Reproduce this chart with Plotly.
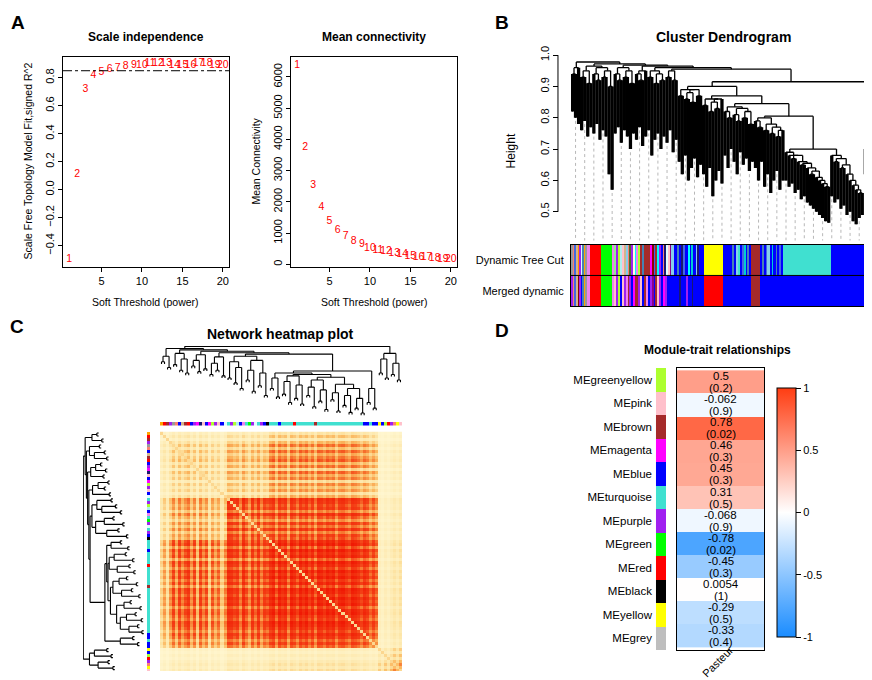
import numpy as np
import plotly.graph_objects as go

FONT = "Liberation Sans, Arial, sans-serif"

# ---- panel A: soft threshold scan
powers = [1, 2, 3, 4, 5, 6, 7, 8, 9, 10, 11, 12, 13, 14, 15, 16, 17, 18, 19, 20]
sft_r2 = [-0.50, 0.11, 0.72, 0.82, 0.84, 0.86, 0.87, 0.88, 0.89, 0.89,
          0.90, 0.90, 0.90, 0.89, 0.89, 0.89, 0.90, 0.90, 0.89, 0.89]
mean_k = [6380, 3730, 2520, 1820, 1390, 1100, 890, 740, 625, 520,
          455, 400, 360, 308, 265, 235, 210, 190, 170, 160]
r2_cutoff = 0.85

# ---- R colour names used by WGCNA
r_colors = {
    'turquoise': '#40E0D0', 'blue': '#0000FF', 'brown': '#A52A2A', 'yellow': '#FFFF00',
    'green': '#00FF00', 'red': '#FF0000', 'black': '#000000', 'pink': '#FFC0CB',
    'magenta': '#FF00FF', 'purple': '#A020F0', 'greenyellow': '#ADFF2F', 'tan': '#D2B48C',
    'salmon': '#FA8072', 'cyan': '#00FFFF', 'midnightblue': '#191970', 'lightcyan': '#E0FFFF',
    'grey60': '#999999', 'lightgreen': '#90EE90', 'lightyellow': '#FFFFE0', 'royalblue': '#4169E1',
    'darkred': '#8B0000', 'darkturquoise': '#00CED1', 'orange': '#FFA500', 'darkorange': '#FF8C00',
    'skyblue': '#87CEEB', 'steelblue': '#4682B4', 'paleturquoise': '#AFEEEE', 'violet': '#EE82EE',
    'darkolivegreen': '#556B2F', 'darkmagenta': '#8B008B', 'grey': '#BEBEBE',
}

# ---- panel B: gene dendrogram as 100 branch bundles
# merge height between neighbouring bundles
tree_gaps = [0.94, 0.96, 0.978, 0.93, 0.95, 0.91, 0.965, 0.94, 0.92, 0.96,
             0.93, 0.95, 0.90, 0.972, 0.94, 0.92, 0.96, 0.93, 0.95, 0.91,
             0.968, 0.94, 0.92, 0.95, 0.965, 0.93, 0.95, 0.91, 0.94, 0.92,
             0.96, 0.93, 0.95, 0.92, 0.955,
             0.87, 0.89, 0.86, 0.88, 0.85, 0.89, 0.87, 0.90,
             0.84, 0.86, 0.82, 0.85, 0.83, 0.86, 0.87,
             0.82, 0.80, 0.835, 0.81, 0.79, 0.83, 0.80, 0.82, 0.78, 0.845,
             0.79, 0.77, 0.80, 0.76, 0.78, 0.75, 0.77, 0.74, 0.76, 0.805,
             0.69, 0.68, 0.67, 0.68, 0.66, 0.65, 0.655, 0.64, 0.62, 0.63,
             0.61, 0.60, 0.59, 0.58, 0.70,
             0.68, 0.66, 0.67, 0.64, 0.65, 0.62, 0.60, 0.585, 0.57, 0.56, 0.915,
             0.70, 0.74, 0.68]
# lowest leaf of every bundle
tree_tips = [0.82, 0.80, 0.78, 0.76, 0.79, 0.74, 0.77, 0.75, 0.78, 0.73,
             0.76, 0.74, 0.62, 0.57, 0.75, 0.77, 0.72, 0.76, 0.74, 0.70,
             0.75, 0.73, 0.77, 0.71, 0.74, 0.76, 0.68, 0.73, 0.75, 0.70,
             0.74, 0.72, 0.76, 0.69, 0.73,
             0.66, 0.62, 0.68, 0.60, 0.64, 0.67, 0.61, 0.65,
             0.62, 0.58, 0.64, 0.55, 0.60, 0.63, 0.59,
             0.68, 0.64, 0.70, 0.66, 0.62, 0.69, 0.65, 0.67, 0.63, 0.66,
             0.64, 0.60, 0.66, 0.58, 0.62, 0.56, 0.60, 0.63, 0.57, 0.60,
             0.60, 0.58, 0.59, 0.56, 0.57, 0.54, 0.55, 0.53, 0.52, 0.51,
             0.50, 0.49, 0.48, 0.47, 0.465,
             0.55, 0.53, 0.54, 0.51, 0.52, 0.49, 0.50, 0.47, 0.46, 0.48, 0.49,
             0.62, 0.60, 0.64, 0.61]

dyn_colors = ['grey60', 'salmon', 'royalblue', 'tan', 'darkorange', 'purple', 'lightcyan', 'steelblue',
              'orange', 'grey60', 'violet', 'red', 'green',
              'violet', 'lightgreen', 'purple', 'greenyellow', 'paleturquoise', 'pink', 'tan', 'skyblue',
              'salmon', 'darkolivegreen', 'purple', 'lightyellow', 'cyan', 'violet', 'greenyellow', 'brown',
              'steelblue', 'brown',
              'magenta', 'darkred', 'royalblue', 'brown', 'cyan', 'purple', 'blue', 'salmon', 'midnightblue',
              'lightcyan', 'pink', 'darkmagenta', 'skyblue',
              'blue', 'steelblue', 'blue', 'midnightblue', 'royalblue', 'blue', 'cyan', 'blue',
              'darkturquoise', 'blue', 'skyblue', 'midnightblue', 'blue',
              'yellow', 'blue',
              'steelblue', 'blue', 'skyblue', 'turquoise', 'blue', 'royalblue', 'darkturquoise', 'blue',
              'steelblue', 'blue', 'brown',
              'blue', 'steelblue', 'blue', 'royalblue', 'skyblue', 'blue', 'darkturquoise', 'blue',
              'steelblue', 'blue', 'royalblue', 'blue',
              'turquoise', 'blue', 'turquoise', 'skyblue']
dyn_widths = [0.7, 0.5, 0.6, 0.5, 0.4, 0.6, 0.4, 0.7, 0.5, 0.6, 0.6, 3.8, 3.6,
              0.8, 0.6, 0.7, 0.5, 0.6, 0.8, 0.5, 0.7, 0.6, 0.5, 0.7, 0.6, 0.5, 0.6, 0.6, 0.5, 0.5, 2.2,
              0.6, 0.5, 0.7, 0.6, 0.5, 0.8, 0.6, 0.5, 0.6, 0.5, 0.6, 0.6, 0.6,
              1.2, 0.6, 0.8, 0.4, 0.7, 1.0, 0.5, 0.7, 0.5, 0.9, 0.5, 0.4, 1.7,
              6.1, 3.3,
              0.6, 0.8, 0.5, 0.6, 0.7, 0.6, 0.5, 0.7, 0.5, 0.5, 2.9,
              0.8, 0.6, 0.7, 0.5, 0.6, 0.9, 0.5, 0.6, 0.7, 0.6, 0.5, 0.7,
              15.5, 13.8, 0.5, 0.6]

merged_colors = ['purple', 'salmon', 'royalblue', 'tan', 'darkred', 'purple', 'blue', 'steelblue',
                 'orange', 'grey60', 'violet', 'red', 'green',
                 'violet', 'pink', 'purple', 'greenyellow', 'blue', 'pink', 'purple', 'violet', 'brown',
                 'purple', 'blue', 'magenta', 'brown', 'purple', 'pink', 'blue', 'brown', 'violet', 'blue',
                 'purple', 'darkmagenta', 'blue', 'brown', 'pink', 'purple', 'blue', 'magenta', 'purple',
                 'blue', 'blue',
                 'blue', 'midnightblue', 'blue', 'purple', 'blue', 'midnightblue', 'blue',
                 'red', 'blue', 'brown', 'blue', 'turquoise']
merged_widths = [0.7, 0.5, 0.6, 0.5, 0.4, 0.6, 0.4, 0.7, 0.5, 0.6, 0.6, 3.8, 3.6,
                 0.8, 0.6, 0.7, 0.5, 0.6, 0.8, 0.5, 0.7, 0.6, 0.5, 0.7, 0.6, 1.1, 0.6, 0.6, 0.5, 0.7,
                 0.6, 0.8, 0.6, 0.5, 0.7, 0.5, 0.6, 0.7, 0.8, 0.5, 0.6, 0.6, 1.6,
                 2.0, 0.4, 1.8, 0.4, 1.5, 0.3, 3.5,
                 6.1, 9.3, 2.9, 37.5, 0.6]

# ---- panel C: network heatmap (80 genes in tree order)
net_gaps = [0.78, 0.86, 0.70, 0.97, 0.74, 0.90, 0.66, 0.82, 0.62, 0.95,
            0.72, 0.80, 0.64, 0.88, 0.68, 0.93, 0.60, 0.76, 0.66, 0.85,
            0.58, 0.91, 0.55, 0.78, 0.48, 0.70, 0.40, 0.86, 0.52, 0.66,
            0.36, 0.80, 0.44, 0.62, 0.30, 0.89, 0.40, 0.55, 0.28, 0.62,
            0.32, 0.50, 0.20, 0.58, 0.26, 0.45, 0.18, 0.60, 0.30, 0.42,
            0.14, 0.52, 0.22, 0.38, 0.10, 0.56, 0.24, 0.34, 0.08, 0.46,
            0.16, 0.30, 0.06, 0.40, 0.12, 0.26, 0.05, 0.65, 0.20, 0.40,
            0.12, 1.00, 0.62, 0.82, 0.55, 0.90, 0.60, 0.76, 0.52]
net_modules = ['orange', 'red', 'brown', 'purple', 'grey60', 'salmon', 'blue', 'tan', 'brown', 'red',
               'blue', 'purple', 'magenta', 'midnightblue', 'pink', 'blue', 'magenta', 'greenyellow',
               'purple', 'pink', 'blue', 'lightcyan',
               'turquoise', 'purple', 'greenyellow', 'paleturquoise', 'blue', 'violet', 'turquoise',
               'green', 'purple', 'lightcyan', 'turquoise', 'purple', 'blue', 'black',
               'turquoise', 'turquoise', 'turquoise', 'blue', 'turquoise', 'turquoise', 'turquoise',
               'turquoise', 'red', 'turquoise', 'turquoise', 'turquoise', 'turquoise', 'turquoise',
               'turquoise', 'brown', 'turquoise', 'turquoise', 'turquoise', 'turquoise', 'turquoise',
               'turquoise', 'turquoise', 'turquoise', 'turquoise', 'turquoise', 'turquoise', 'turquoise',
               'turquoise', 'turquoise', 'turquoise', 'blue', 'blue', 'turquoise', 'blue', 'blue',
               'yellow', 'blue', 'greenyellow', 'red', 'purple', 'salmon', 'yellow', 'pink']
net_block = [0] * 22 + [1] * 14 + [2] * 36 + [3] * 8
net_strength = [0.35, 0.55, 0.30, 0.60, 0.90, 0.55, 0.95, 0.65, 0.85, 1.00,
                0.60, 0.90, 0.45, 0.95, 0.65, 0.85, 0.40, 0.80, 0.55, 0.75,
                0.40, 0.65,
                1.00, 0.95, 0.80, 0.90, 0.60, 1.00, 0.75, 0.55, 0.90, 0.65,
                0.95, 0.60, 0.85, 0.75,
                0.90, 1.00, 0.65, 1.00, 0.85, 0.95, 0.60, 1.00, 0.90, 0.70,
                1.00, 0.85, 1.00, 0.75, 0.95, 0.65, 1.00, 0.95, 0.80, 1.00,
                0.90, 1.00, 0.70, 0.95, 1.00, 0.85, 0.75, 1.00, 0.95, 0.85,
                0.70, 0.90, 0.80, 0.60, 0.75, 0.60,
                0.45, 0.30, 0.50, 0.35, 0.55, 0.75, 0.55, 0.80]
# rows x columns (the picture is not symmetric)
block_coupling = [[0.38, 0.45, 0.62, 0.20],
                  [0.55, 0.90, 0.85, 0.22],
                  [0.80, 0.90, 1.00, 0.28],
                  [0.22, 0.25, 0.30, 0.80]]

# ---- panel D: module-trait relationships
me_names = ['MEgreenyellow', 'MEpink', 'MEbrown', 'MEmagenta', 'MEblue', 'MEturquoise',
            'MEpurple', 'MEgreen', 'MEred', 'MEblack', 'MEyellow', 'MEgrey']
me_colors = ['greenyellow', 'pink', 'brown', 'magenta', 'blue', 'turquoise',
             'purple', 'green', 'red', 'black', 'yellow', 'grey']
me_cor = [0.5, -0.062, 0.78, 0.46, 0.45, 0.31, -0.068, -0.78, -0.45, 0.0054, -0.29, -0.33]
me_p = ['0.2', '0.9', '0.02', '0.3', '0.3', '0.5', '0.9', '0.02', '0.3', '1', '0.5', '0.4']
trait = 'Pasteur'


def dendro_segments(gaps, tips=None, hang=0.03):
    """Ordered dendrogram from the merge heights between neighbouring leaves."""
    xs, ys, stems = [], [], {}

    def build(lo, hi):
        if lo == hi:
            return lo, None
        k = lo + int(np.argmax(gaps[lo:hi]))
        h = gaps[k]
        left = build(lo, k)
        right = build(k + 1, hi)
        for cx, ch in (left, right):
            if ch is None:
                ch = tips[cx] if tips is not None else h - hang
                stems[cx] = (ch, h)
            xs.extend([cx, cx, None])
            ys.extend([ch, h, None])
        xs.extend([left[0], right[0], None])
        ys.extend([h, h, None])
        return (left[0] + right[0]) / 2, h

    build(0, len(gaps))
    return xs, ys, stems


def seg_starts(widths):
    return list(np.cumsum([0] + widths[:-1]) - 0.5)


fig = go.Figure()
tick_font = dict(family=FONT, size=11, color='black')

# A: scale independence / mean connectivity
fig.add_trace(go.Scatter(x=powers, y=sft_r2, mode='text', text=[str(p) for p in powers],
                         textfont=dict(family=FONT, size=10.5, color='red'), xaxis='x', yaxis='y'))
fig.add_trace(go.Scatter(x=powers, y=mean_k, mode='text', text=[str(p) for p in powers],
                         textfont=dict(family=FONT, size=10.5, color='red'), xaxis='x2', yaxis='y2'))
fig.add_shape(type='line', xref='x domain', yref='y', x0=0, x1=1, y0=r2_cutoff, y1=r2_cutoff,
              line=dict(color='black', width=1, dash='dashdot'))

# B: cluster dendrogram + colour rows
bx, by, bstems = dendro_segments(tree_gaps, tips=tree_tips)
fig.add_trace(go.Scatter(x=bx, y=by, mode='lines', line=dict(color='black', width=1.3),
                         xaxis='x3', yaxis='y3', hoverinfo='skip'))
# each bundle holds many genes: draw it as a solid stem
sx, sy = [], []
for leaf, (tip, top) in bstems.items():
    sx.extend([leaf, leaf, None])
    sy.extend([tip, top, None])
fig.add_trace(go.Scatter(x=sx, y=sy, mode='lines', line=dict(color='black', width=3.3),
                         xaxis='x3', yaxis='y3', hoverinfo='skip'))
gx, gy = [], []
for leaf in sorted(bstems)[1::3]:
    gx.extend([leaf, leaf, None])
    gy.extend([bstems[leaf][0] - 0.01, 0.40, None])
fig.add_trace(go.Scatter(x=gx, y=gy, mode='lines', line=dict(color='#9a9a9a', width=0.7, dash='dot'),
                         xaxis='x3', yaxis='y3', hoverinfo='skip'))
for row, cols, wids in ((1, dyn_colors, dyn_widths), (0, merged_colors, merged_widths)):
    fig.add_trace(go.Bar(orientation='h', y=[row] * len(cols), x=wids, base=seg_starts(wids),
                         width=1, marker=dict(color=[r_colors[c] for c in cols], line=dict(width=0)),
                         xaxis='x4', yaxis='y4', hoverinfo='skip'))
fig.add_shape(type='line', xref='x4 domain', yref='y4', x0=0, x1=1, y0=0.5, y1=0.5,
              line=dict(color='black', width=1), layer='above')

# C: network heatmap
blk = np.array(net_block)
kk = np.array(net_strength)
tom = np.array(block_coupling)[blk][:, blk] * np.outer(kk, kk)
np.fill_diagonal(tom, 0.25)
n_net = len(net_strength)
fig.add_trace(go.Heatmap(z=tom, zmin=0, zmax=1, showscale=False, xaxis='x5', yaxis='y5',
                         colorscale=[[0, '#FFF8D4'], [0.2, '#FDE6A8'], [0.35, '#FBB860'],
                                     [0.5, '#F77A32'], [0.65, '#F44016'], [1, '#F01A04']],
                         hoverinfo='skip'))
cx, cy, _ = dendro_segments(net_gaps, hang=0.03)
fig.add_trace(go.Scatter(x=cx, y=cy, mode='lines', line=dict(color='black', width=1.1),
                         xaxis='x6', yaxis='y6', hoverinfo='skip'))
fig.add_trace(go.Scatter(x=cy, y=cx, mode='lines', line=dict(color='black', width=1.1),
                         xaxis='x9', yaxis='y9', hoverinfo='skip'))
net_idx = list(range(n_net))
fig.add_trace(go.Bar(x=net_idx, y=[1] * n_net, width=1,
                     marker=dict(color=[r_colors[c] for c in net_modules], line=dict(width=0)),
                     xaxis='x7', yaxis='y7', hoverinfo='skip'))
fig.add_trace(go.Bar(orientation='h', y=net_idx, x=[1] * n_net, width=1,
                     marker=dict(color=[r_colors[c] for c in net_modules], line=dict(width=0)),
                     xaxis='x8', yaxis='y8', hoverinfo='skip'))

# D: module-trait heatmap
fig.add_trace(go.Bar(orientation='h', y=me_names, x=[1] * len(me_names), width=1,
                     marker=dict(color=[r_colors[c] for c in me_colors], line=dict(width=0)),
                     xaxis='x10', yaxis='y10', hoverinfo='skip'))
fig.add_trace(go.Heatmap(z=[[v] for v in me_cor], x=[trait], y=me_names, zmin=-1, zmax=1,
                         colorscale=[[0, '#1A8CFF'], [0.5, '#FFFFFF'], [1, '#FF3D12']],
                         xaxis='x11', yaxis='y11', hoverinfo='skip',
                         colorbar=dict(x=0.8819, xanchor='left', y=0.2596, yanchor='middle',
                                       len=0.369, thickness=19, xpad=0, ypad=0,
                                       outlinecolor='black', outlinewidth=1,
                                       tickvals=[-1, -0.5, 0, 0.5, 1], ticktext=['-1', '-0.5', '0', '0.5', '1'],
                                       ticks='outside', ticklen=5, tickcolor='black',
                                       tickfont=tick_font)))
for name, c, p in zip(me_names, me_cor, me_p):
    for txt, shift in ((str(c), 6), (f'({p})', -6)):
        fig.add_annotation(x=trait, y=name, xref='x11', yref='y11', text=txt, yshift=shift,
                           showarrow=False, font=dict(family=FONT, size=11.5, color='black'))
fig.add_annotation(x=trait, y=0.038, xref='x11', yref='paper', text=trait, textangle=-45,
                   showarrow=False, xanchor='center', yanchor='middle', xshift=-3,
                   font=dict(family=FONT, size=11, color='black'))

boxed = dict(showline=True, mirror=True, linecolor='black', linewidth=1, ticks='outside',
             ticklen=4, tickcolor='black', showgrid=False, zeroline=False, tickfont=tick_font)
hidden = dict(visible=False, showgrid=False, zeroline=False)

fig.update_layout(
    width=872, height=680, margin=dict(l=0, r=0, t=0, b=0),
    paper_bgcolor='white', plot_bgcolor='white', showlegend=False,
    barmode='overlay', bargap=0, font=dict(family=FONT, color='black'),
    xaxis=dict(boxed, domain=[0.0631, 0.2534], range=[0.24, 20.76], tickvals=[5, 10, 15, 20]),
    yaxis=dict(boxed, domain=[0.6235, 0.9338], range=[-0.55, 0.95], anchor='x',
               tickvals=[-0.4, -0.2, 0, 0.2, 0.4, 0.6, 0.8], tickformat='.1f', tickangle=-90),
    xaxis2=dict(boxed, domain=[0.3245, 0.5149], range=[0.24, 20.76], tickvals=[5, 10, 15, 20],
                anchor='y2'),
    yaxis2=dict(boxed, domain=[0.6235, 0.9338], range=[-70, 6645], anchor='x2',
                tickvals=[0, 1000, 2000, 3000, 4000, 5000, 6000], tickangle=-90),
    xaxis3=dict(hidden, domain=[0.6456, 0.9954], range=[-0.5, 99.5], anchor='y3'),
    yaxis3=dict(domain=[0.6618, 0.9441], range=[0.408, 1.017], anchor='free', position=0.6307,
                tickvals=[0.5, 0.6, 0.7, 0.8, 0.9, 1.0], tickformat='.1f', tickangle=-90,
                ticks='outside', ticklen=5, tickcolor='black', showgrid=False, zeroline=False,
                showline=False, tickfont=tick_font),
    xaxis4=dict(domain=[0.6456, 0.9954], range=[-0.5, 99.5], anchor='y4', showticklabels=False,
                showline=True, mirror=True, linecolor='black', showgrid=False, zeroline=False),
    yaxis4=dict(domain=[0.5647, 0.6559], range=[-0.5, 1.5], anchor='x4', tickvals=[1, 0],
                ticktext=['Dynamic Tree Cut', 'Merged dynamic'], showline=True, mirror=True,
                linecolor='black', showgrid=False, zeroline=False, ticks='', ticklabelstandoff=4,
                tickfont=dict(family=FONT, size=11, color='black')),
    xaxis5=dict(hidden, domain=[0.1743, 0.4518], range=[-0.5, n_net - 0.5], anchor='y5'),
    yaxis5=dict(hidden, domain=[0.025, 0.3794], range=[n_net - 0.5, -0.5], anchor='x5'),
    xaxis6=dict(hidden, domain=[0.1743, 0.4518], range=[-0.5, n_net - 0.5], anchor='y6'),
    yaxis6=dict(hidden, domain=[0.4015, 0.5059], range=[0.0, 1.005], anchor='x6'),
    xaxis7=dict(hidden, domain=[0.1743, 0.4518], range=[-0.5, n_net - 0.5], anchor='y7'),
    yaxis7=dict(hidden, domain=[0.3882, 0.3985], range=[0.5, 1.5], anchor='x7'),
    xaxis8=dict(hidden, domain=[0.1594, 0.1674], range=[0.5, 1.5], anchor='y8'),
    yaxis8=dict(hidden, domain=[0.025, 0.3794], range=[n_net - 0.5, -0.5], anchor='x8'),
    xaxis9=dict(hidden, domain=[0.086, 0.1571], range=[1.005, 0.0], anchor='y9'),
    yaxis9=dict(hidden, domain=[0.025, 0.3794], range=[n_net - 0.5, -0.5], anchor='x9'),
    xaxis10=dict(hidden, domain=[0.7431, 0.7649], range=[0.5, 1.5], anchor='y10'),
    yaxis10=dict(domain=[0.0559, 0.4735], anchor='x10', autorange='reversed', ticks='',
                 showgrid=False, zeroline=False, showline=False, ticklabelstandoff=3,
                 tickfont=dict(family=FONT, size=11.5, color='black')),
    xaxis11=dict(domain=[0.7672, 0.867], anchor='y11', showline=True, mirror=True,
                 linecolor='black', ticks='', showticklabels=False, showgrid=False, zeroline=False),
    yaxis11=dict(domain=[0.0559, 0.4735], anchor='x11', autorange='reversed', showline=True,
                 mirror=True, linecolor='black', showticklabels=False, ticks='',
                 showgrid=False, zeroline=False),
)

# y axis line of the dendrogram spans the labelled ticks only
fig.add_shape(type='line', xref='paper', yref='y3', x0=0.6307, x1=0.6307, y0=0.5, y1=1.0,
              line=dict(color='black', width=1))

notes = [
    ('A', 0.011, 0.985, 19, True, 0), ('B', 0.566, 0.985, 19, True, 0),
    ('C', 0.010, 0.535, 19, True, 0), ('D', 0.566, 0.529, 19, True, 0),
    ('Scale independence', 0.158, 0.963, 12, True, 0),
    ('Mean connectivity', 0.420, 0.963, 12, True, 0),
    ('Soft Threshold (power)', 0.158, 0.571, 10.5, False, 0),
    ('Soft Threshold (power)', 0.420, 0.571, 10.5, False, 0),
    ('Scale Free Topology Model Fit,signed R^2', 0.023, 0.779, 10.5, False, -90),
    ('Mean Connectivity', 0.2846, 0.779, 10.5, False, -90),
    ('Cluster Dendrogram', 0.820, 0.963, 14, True, 0),
    ('Height', 0.577, 0.794, 12, False, -90),
    ('Network heatmap plot', 0.313, 0.5235, 14, True, 0),
    ('Module-trait relationships', 0.814, 0.500, 12, True, 0),
]
for txt, x, y, size, bold, angle in notes:
    fig.add_annotation(text=f'<b>{txt}</b>' if bold else txt, x=x, y=y, xref='paper', yref='paper',
                       showarrow=False, textangle=angle, xanchor='center', yanchor='middle',
                       font=dict(family=FONT, size=size, color='black'))

fig.write_html("out.html")
